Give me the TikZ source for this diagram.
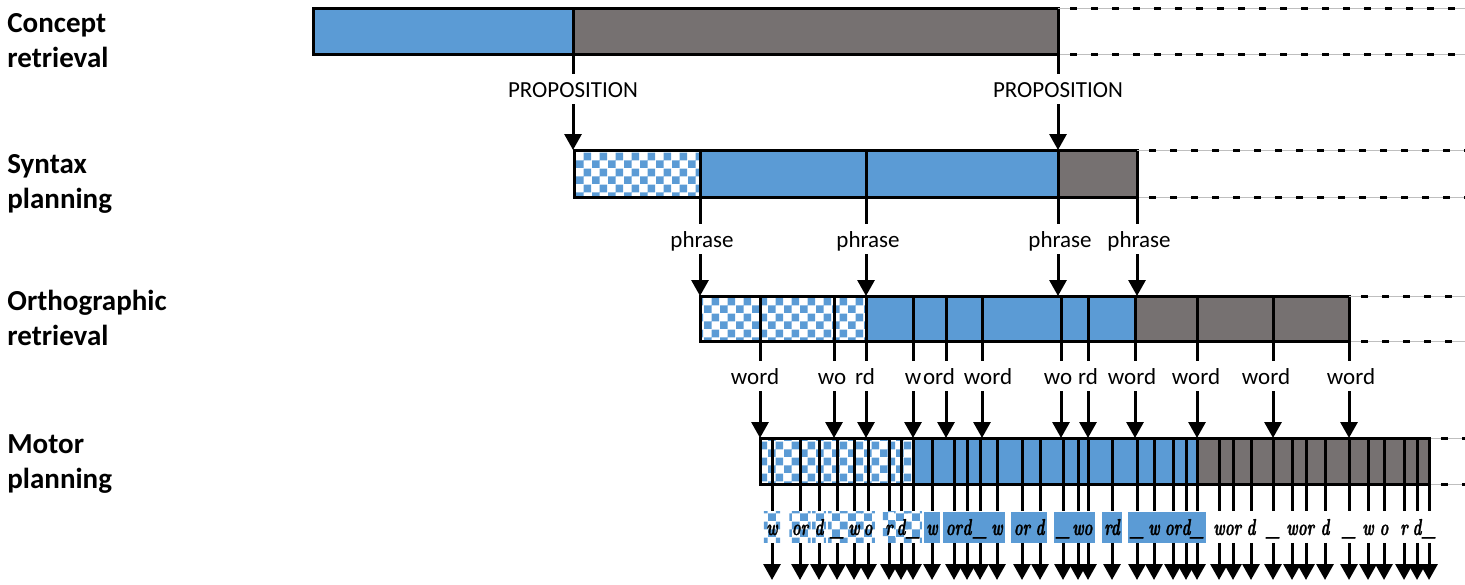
\documentclass[tikz,border=0pt]{standalone}
\usepackage{fontspec}
\setmainfont{Carlito}
\newfontfamily\keyfont{lmroman10}[Extension=.otf, UprightFont=*-regular, BoldFont=*-bold,
  ItalicFont=*-italic, BoldItalicFont=*-bolditalic, FakeStretch=0.65, FakeBold=1.2]
\usetikzlibrary{arrows.meta,patterns}

\definecolor{cblue}{RGB}{91,155,213}
\definecolor{cgray}{RGB}{118,113,113}

% blue/white squares, 4pt each
\pgfdeclarepatternformonly{bigcheck}{\pgfpointorigin}{\pgfqpoint{8pt}{8pt}}{\pgfqpoint{8pt}{8pt}}{%
  \pgfpathrectangle{\pgfpointorigin}{\pgfqpoint{4pt}{4pt}}%
  \pgfpathrectangle{\pgfqpoint{4pt}{4pt}}{\pgfqpoint{4pt}{4pt}}%
  \pgfusepath{fill}}

\tikzset{
  stage/.style={font=\fontsize{14.5}{17.5}\selectfont\bfseries, align=left, anchor=base west, inner sep=0pt},
  bar/.style={draw=black, line width=1.5pt},
  chk/.style={fill=white, pattern=bigcheck, pattern color=cblue},
  blu/.style={fill=cblue},
  gry/.style={fill=cgray},
  divider/.style={line width=1.5pt},
  conn/.style={line width=1.5pt, -{Triangle[width=8.5pt,length=8pt]}},
  unitlbl/.style={font=\fontsize{11.5}{14}\selectfont, text height=11pt, text depth=3pt, inner xsep=1pt, inner ysep=0.5pt},
  keystroke/.style={font=\fontsize{11.5}{13}\keyfont\bfseries\itshape, text height=10pt, text depth=2pt, inner xsep=1.2pt, inner ysep=1.75pt},
  keyc/.style={chk}, keyb/.style={blu}, keyn/.style={},
  extbase/.style={draw=gray!50, line width=0.5pt},
  ext/.style={line width=1.5pt, dash pattern=on 3.5pt off 7pt, dash phase=4.5pt}
}

\begin{document}
\begin{tikzpicture}[x=0.5pt, y=-0.5pt]
\useasboundingbox (0,0) rectangle (1465,584);

% stage names (base = last line)
\node[stage] (cr) at (7,67) {Concept\\retrieval};
\node[stage] (sp) at (7,208) {Syntax\\planning};
\node[stage] (ot) at (7,345) {Orthographic\\retrieval};
\node[stage] (mp) at (7,488) {Motor\\planning};

% bars
\fill[blu] (313,8) rectangle (573,54);
\fill[gry] (573,8) rectangle (1058,54);
\draw[bar] (313,8) rectangle (1058,54);
\draw[divider] (573,8) -- (573,54);

\fill[chk] (574,150) rectangle (700,197);
\fill[blu] (700,150) rectangle (1058,197);
\fill[gry] (1058,150) rectangle (1137,197);
\draw[bar] (574,150) rectangle (1137,197);
\foreach \x in {700,866,1058} \draw[divider] (\x,150) -- (\x,197);

\fill[chk] (700,296) rectangle (866,341);
\fill[blu] (866,296) rectangle (1135,341);
\fill[gry] (1135,296) rectangle (1349,341);
\draw[bar] (700,296) rectangle (1349,341);
\foreach \x in {760,834,866,913,946,982,1061,1088,1135,1197,1273} \draw[divider] (\x,296) -- (\x,341);

\fill[chk] (760,438) rectangle (913,484);
\fill[blu] (913,438) rectangle (1197,484);
\fill[gry] (1197,438) rectangle (1429,484);
\draw[bar] (760,438) rectangle (1429,484);

% open ends
\foreach \x/\ya/\yb in {1058/8/54, 1137/150/197, 1349/296/341, 1429/438/484}{
  \draw[extbase] (\x,\ya) -- (1465,\ya) (\x,\yb) -- (1465,\yb);
  \draw[ext] (\x,\ya) -- (1465,\ya) (\x,\yb) -- (1465,\yb);
}

% concept -> syntax
\foreach \x [count=\i] in {573,1058}{
  \node[unitlbl] (prop\i) at (\x,89) {PROPOSITION};
  \draw[divider] (\x,54) -- (prop\i.north);
  \draw[conn] (prop\i.south) -- (\x,150);
}

% syntax -> orthography
\foreach \x [count=\i] in {700,866,1058,1137}{
  \node[unitlbl] (phr\i) at (\x+2,239) {phrase};
  \draw[divider] (\x,197) -- (phr\i.north -| \x,0);
  \draw[conn] (phr\i.south -| \x,0) -- (\x,296);
}

% orthography -> motor
\foreach \x/\lx/\t [count=\i] in {760/755/word, 834/832/wo, 866/865/rd, 913/913/w, 946/939/ord,
    982/988/word, 1061/1058/wo, 1088/1088/rd, 1135/1132/word, 1197/1196/word, 1273/1266/word, 1349/1351/word}{
  \node[unitlbl] (wd\i) at (\lx,376) {\t};
  \draw[divider] (\x,341) -- (wd\i.north -| \x,0);
  \draw[conn] (wd\i.south -| \x,0) -- (\x,438);
}

% motor -> keystrokes
\def\keylist{772/w/c, 800/or/c, 819/d/c, 837/\_/c, 854/w/c, 868/o/c, 889/r/c, 901/d/c, 913/\_/c,
    932/w/b, 954/or/b, 967/d/b, 980/\_/b, 997/w/b, 1022/or/b, 1040/d/b, 1063/\_/b, 1078/w/b, 1088/o/b,
    1112/rd/b, 1137/\_/b, 1154/w/b, 1173/or/b, 1186/d/b, 1197/\_/b,
    1219/w/n, 1233/or/n, 1251/d/n, 1273/\_/n, 1292/w/n, 1306/or/n, 1325/d/n, 1349/\_/n,
    1368/w/n, 1384/o/n, 1404/r/n, 1417/d/n, 1429/\_/n}
\foreach \x/\t/\s [count=\i] in \keylist{
  \draw[divider] (\x,438) -- (\x,484);
  \node[keystroke, key\s] (ks\i) at (\x,527) {\phantom{\t}};
  \draw[divider] (\x,484) -- (ks\i.north);
  \draw[conn] (ks\i.south) -- (\x,580);
}
\foreach \x/\t/\s [count=\i] in \keylist
  \node[keystroke] at (ks\i.center) {\t};
\end{tikzpicture}
\end{document}
